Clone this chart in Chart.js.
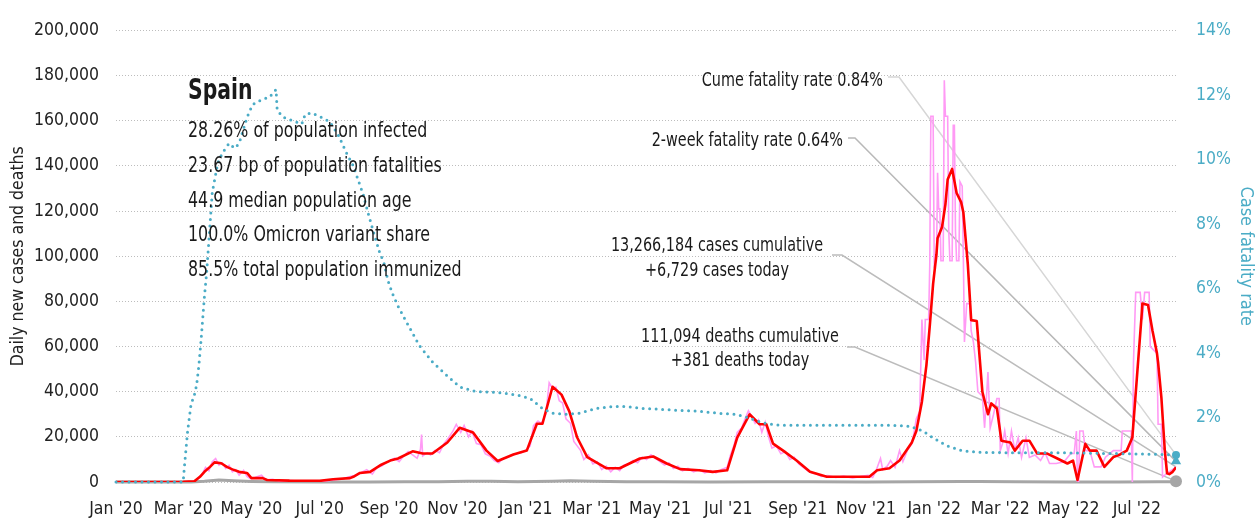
<!DOCTYPE html>
<html>
<head>
<meta charset="utf-8">
<title>Spain</title>
<script src="https://cdn.jsdelivr.net/npm/chart.js@4.4.1/dist/chart.umd.min.js"></script>
<style>
  html, body { margin: 0; padding: 0; background: #fff; }
  canvas { display: block; }
</style>
</head>
<body>
<canvas id="grafico" width="1259" height="520"></canvas>
<script>
// x axis: every other month
const tickDates = ['2020-01-01','2020-03-01','2020-05-01','2020-07-01','2020-09-01','2020-11-01',
  '2021-01-01','2021-03-01','2021-05-01','2021-07-01','2021-09-01','2021-11-01',
  '2022-01-01','2022-03-01','2022-05-01','2022-07-01'];
const tickLabels = ["Jan '20","Mar '20","May '20","Jul '20","Sep '20","Nov '20",
  "Jan '21","Mar '21","May '21","Jul '21","Sep '21","Nov '21",
  "Jan '22","Mar '22","May '22","Jul '22"];
const lastDate = '2022-08-05';

// 7-day average of new cases
const avgDates = [
  '2020-01-01','2020-03-01','2020-03-11','2020-03-16','2020-03-20','2020-03-25','2020-03-29','2020-04-04','2020-04-09','2020-04-14',
  '2020-04-20','2020-04-27','2020-05-01','2020-05-11','2020-05-15','2020-06-04','2020-07-01','2020-07-13','2020-07-28','2020-07-31',
  '2020-08-06','2020-08-15','2020-08-24','2020-09-02','2020-09-09','2020-09-22','2020-10-01','2020-10-10','2020-10-23','2020-11-03',
  '2020-11-15','2020-11-27','2020-12-07','2020-12-21','2021-01-02','2021-01-11','2021-01-16','2021-01-25','2021-02-02','2021-02-09',
  '2021-02-16','2021-02-25','2021-03-14','2021-03-26','2021-04-13','2021-04-25','2021-05-07','2021-05-19','2021-06-05','2021-06-17',
  '2021-06-30','2021-07-09','2021-07-20','2021-07-29','2021-08-04','2021-08-10','2021-08-19','2021-08-31','2021-09-12','2021-09-27',
  '2021-10-06','2021-11-04','2021-11-11','2021-11-22','2021-12-01','2021-12-12','2021-12-16','2021-12-21','2021-12-25','2021-12-28',
  '2021-12-31','2022-01-03','2022-01-04','2022-01-08','2022-01-11','2022-01-13','2022-01-17','2022-01-21','2022-01-25','2022-01-27',
  '2022-01-31','2022-02-03','2022-02-08','2022-02-13','2022-02-18','2022-02-21','2022-02-26','2022-03-02','2022-03-10','2022-03-14',
  '2022-03-21','2022-03-27','2022-04-03','2022-04-12','2022-04-21','2022-04-30','2022-05-05','2022-05-09','2022-05-16','2022-05-20',
  '2022-05-26','2022-06-02','2022-06-10','2022-06-16','2022-06-22','2022-06-27','2022-07-01','2022-07-05','2022-07-06','2022-07-11',
  '2022-07-15','2022-07-19','2022-07-20','2022-07-23','2022-07-26','2022-07-28','2022-07-30','2022-08-02','2022-08-05'];
const avgCases = [
  0, 100, 300, 2300, 4500, 6700, 8700, 8300, 6700, 5600,
  4500, 4000, 1700, 1700, 900, 600, 500, 1200, 1700, 2300,
  4000, 4500, 7400, 9500, 10400, 13600, 12600, 12700, 17500, 24000,
  21900, 13900, 9300, 12200, 13900, 25800, 25800, 42200, 38700, 31300,
  19700, 11000, 6100, 6100, 10400, 11300, 8200, 5700, 5200, 4500,
  5200, 19700, 30000, 25600, 25600, 17000, 13900, 9500, 4500, 2300,
  2300, 2300, 5200, 6100, 9500, 17500, 22600, 35600, 51700, 69000,
  87800, 100900, 108000, 113000, 123000, 134000, 138700, 128000, 124000, 119500,
  96500, 71700, 71300, 40000, 30000, 34800, 32600, 18300, 17500, 13900,
  18300, 18300, 12600, 12600, 10400, 8200, 9500, 900, 16900, 13900,
  13900, 6700, 11000, 12200, 13900, 19700, 45800, 71900, 79100, 78400,
  67000, 57000, 53000, 37000, 13900, 3900, 3500, 4500, 6500];

// reported new cases
const dailyDates = [
  '2020-01-01','2020-03-01','2020-03-10','2020-03-14','2020-03-18','2020-03-21','2020-03-24','2020-03-27','2020-03-30','2020-04-02',
  '2020-04-05','2020-04-08','2020-04-11','2020-04-14','2020-04-17','2020-04-20','2020-04-24','2020-04-27','2020-04-30','2020-05-04',
  '2020-05-10','2020-05-14','2020-05-20','2020-05-26','2020-06-05','2020-06-15','2020-06-25','2020-07-05','2020-07-15','2020-07-22',
  '2020-07-29','2020-08-03','2020-08-08','2020-08-12','2020-08-17','2020-08-21','2020-08-25','2020-08-29','2020-09-02','2020-09-06',
  '2020-09-10','2020-09-14','2020-09-18','2020-09-22','2020-09-26','2020-09-29','2020-09-30','2020-10-01','2020-10-05','2020-10-08',
  '2020-10-12','2020-10-16','2020-10-20','2020-10-24','2020-10-28','2020-10-31','2020-11-04','2020-11-07','2020-11-11','2020-11-14',
  '2020-11-18','2020-11-22','2020-11-26','2020-11-30','2020-12-04','2020-12-08','2020-12-12','2020-12-16','2020-12-20','2020-12-24',
  '2020-12-28','2021-01-01','2021-01-05','2021-01-08','2021-01-12','2021-01-15','2021-01-19','2021-01-22','2021-01-25','2021-01-28',
  '2021-01-31','2021-02-03','2021-02-06','2021-02-10','2021-02-13','2021-02-16','2021-02-19','2021-02-22','2021-02-26','2021-03-02',
  '2021-03-06','2021-03-10','2021-03-14','2021-03-18','2021-03-22','2021-03-26','2021-03-30','2021-04-03','2021-04-07','2021-04-11',
  '2021-04-15','2021-04-19','2021-04-23','2021-04-27','2021-05-01','2021-05-05','2021-05-09','2021-05-13','2021-05-17','2021-05-21',
  '2021-05-26','2021-05-31','2021-06-05','2021-06-10','2021-06-15','2021-06-20','2021-06-25','2021-06-30','2021-07-03','2021-07-06',
  '2021-07-09','2021-07-13','2021-07-16','2021-07-19','2021-07-22','2021-07-25','2021-07-28','2021-07-31','2021-08-03','2021-08-06',
  '2021-08-09','2021-08-13','2021-08-17','2021-08-21','2021-08-25','2021-08-29','2021-09-02','2021-09-06','2021-09-10','2021-09-14',
  '2021-09-18','2021-09-22','2021-09-28','2021-10-05','2021-10-12','2021-10-20','2021-10-28','2021-11-03','2021-11-07','2021-11-10',
  '2021-11-14','2021-11-16','2021-11-20','2021-11-23','2021-11-27','2021-12-01','2021-12-04','2021-12-08','2021-12-12','2021-12-14',
  '2021-12-16','2021-12-19','2021-12-21','2021-12-23','2021-12-24','2021-12-27','2021-12-28','2021-12-29','2021-12-31','2022-01-01',
  '2022-01-03','2022-01-04','2022-01-05','2022-01-06','2022-01-07','2022-01-09','2022-01-10','2022-01-11','2022-01-13','2022-01-14',
  '2022-01-15','2022-01-17','2022-01-18','2022-01-19','2022-01-20','2022-01-21','2022-01-23','2022-01-24','2022-01-26','2022-01-27',
  '2022-01-28','2022-01-30','2022-02-02','2022-02-03','2022-02-05','2022-02-07','2022-02-09','2022-02-13','2022-02-15','2022-02-18',
  '2022-02-20','2022-02-23','2022-02-26','2022-02-28','2022-03-01','2022-03-03','2022-03-05','2022-03-08','2022-03-11','2022-03-14',
  '2022-03-17','2022-03-20','2022-03-24','2022-03-27','2022-04-01','2022-04-06','2022-04-10','2022-04-14','2022-04-20','2022-04-27',
  '2022-05-03','2022-05-06','2022-05-08','2022-05-09','2022-05-10','2022-05-11','2022-05-14','2022-05-16','2022-05-20','2022-05-24',
  '2022-05-30','2022-06-03','2022-06-10','2022-06-17','2022-06-18','2022-06-26','2022-06-27','2022-06-28','2022-06-30','2022-07-04',
  '2022-07-06','2022-07-08','2022-07-12','2022-07-13','2022-07-19','2022-07-20','2022-07-23','2022-07-24','2022-07-28','2022-08-01',
  '2022-08-05'];
const dailyCases = [
  0, 0, 200, 1500, 3500, 6500, 5000, 9000, 10400, 7500,
  8500, 6000, 7400, 4500, 5500, 3000, 5200, 2500, 1500, 2000,
  3000, 1000, 1200, 400, 600, 300, 500, 400, 1000, 1500,
  2500, 3000, 4500, 5500, 3500, 6500, 7000, 8500, 9500, 10500,
  9000, 11500, 13500, 12000, 10500, 14500, 21000, 11500, 13000, 12000,
  14000, 13000, 17000, 19500, 22500, 25500, 22000, 25000, 20000, 22500,
  17000, 16500, 12500, 11500, 9500, 8500, 10500, 11000, 12000, 12500,
  13000, 14000, 16000, 25000, 27000, 26000, 30000, 44000, 41500, 42000,
  36000, 35000, 28000, 26000, 18000, 16000, 14000, 10000, 12000, 8000,
  9000, 5500, 7000, 4500, 6500, 5000, 7500, 8000, 9500, 8500,
  11000, 10000, 12000, 10500, 9000, 7500, 8500, 6000, 7000, 5000,
  6000, 4500, 5500, 4000, 5000, 4000, 5500, 6500, 12000, 16000,
  22000, 24000, 28000, 31500, 29000, 26000, 27500, 22000, 26500, 20000,
  15000, 16000, 12500, 13500, 10000, 11000, 8000, 6500, 5000, 4000,
  3500, 2500, 2800, 2000, 2600, 1800, 2500, 3000, 2000, 5000,
  10400, 5500, 7000, 9500, 6500, 13900, 9000, 14000, 17000, 22000,
  28000, 31300, 72000, 54000, 72000, 72000, 96000, 162000, 162000, 96000,
  98000, 137000, 121000, 121000, 98000, 98000, 178000, 162000, 162000, 111000,
  98000, 98000, 158000, 158000, 111000, 98000, 98000, 133000, 131000, 100000,
  62000, 79000, 79000, 67000, 62000, 53000, 40000, 38000, 24000, 48700,
  24000, 30000, 37000, 37000, 13900, 17000, 22600, 12600, 22600, 13900,
  19600, 10900, 19600, 10900, 12000, 9500, 13000, 8200, 8200, 9000,
  12600, 12600, 22600, 0, 0, 22600, 22600, 13900, 13900, 6700,
  6700, 11000, 13900, 13900, 22600, 22600, 0, 53000, 84000, 84000,
  72000, 84000, 84000, 60000, 57000, 25600, 25600, 2200, 3900, 5200,
  6729];

// 7-day average of deaths
const deathDates = ['2020-01-01','2020-03-08','2020-03-20','2020-04-02','2020-04-15','2020-05-01','2020-05-20','2020-07-01',
  '2020-08-15','2020-09-15','2020-10-15','2020-11-10','2020-12-01','2020-12-25','2021-01-25','2021-02-10','2021-03-01',
  '2021-04-01','2021-05-01','2021-06-15','2021-08-05','2021-09-15','2021-11-01','2021-12-15','2022-01-25','2022-02-10',
  '2022-03-15','2022-05-01','2022-06-15','2022-07-20','2022-08-05'];
const deathAvg = [0, 0, 300, 850, 550, 250, 60, 10,
  30, 120, 150, 350, 300, 150, 350, 500, 300,
  100, 90, 40, 120, 60, 30, 60, 200, 250,
  100, 50, 40, 110, 100];

// case fatality rate, percent
const rateDates = ['2020-01-01','2020-03-01','2020-03-02','2020-03-05','2020-03-08','2020-03-11','2020-03-13','2020-03-15','2020-03-17','2020-03-20',
  '2020-03-22','2020-03-23','2020-03-27','2020-04-01','2020-04-05','2020-04-11','2020-04-16','2020-04-20','2020-04-27','2020-05-02',
  '2020-05-11','2020-05-17','2020-05-23','2020-05-24','2020-05-29','2020-06-07','2020-06-15','2020-06-18','2020-06-24','2020-07-03',
  '2020-07-10','2020-07-17','2020-07-25','2020-07-31','2020-08-04','2020-08-09','2020-08-13','2020-08-18','2020-08-24','2020-08-27',
  '2020-08-31','2020-09-04','2020-09-09','2020-09-17','2020-09-28','2020-10-10','2020-10-22','2020-11-03','2020-11-18','2020-12-06',
  '2020-12-24','2021-01-05','2021-01-16','2021-01-25','2021-02-07','2021-02-18','2021-03-05','2021-03-20','2021-04-01','2021-04-16',
  '2021-05-04','2021-05-19','2021-06-06','2021-06-23','2021-07-08','2021-07-20','2021-08-01','2021-08-16','2021-09-30','2021-11-19',
  '2021-12-10','2021-12-22','2021-12-31','2022-01-12','2022-01-26','2022-02-10','2022-03-03','2022-04-17','2022-06-16','2022-07-28',
  '2022-08-05'];
const fatalityRate = [0, 0, 0.43, 1.58, 2.4, 2.7, 3.0, 3.6, 4.4, 5.75,
  6.5, 7.0, 8.98, 9.9, 10.2, 10.5, 10.35, 10.5, 11.3, 11.7,
  11.87, 11.93, 12.17, 11.53, 11.32, 11.2, 11.1, 11.4, 11.44, 11.3,
  11.17, 10.8, 10.2, 9.8, 9.4, 8.9, 8.37, 7.76, 7.06, 6.85,
  6.24, 5.84, 5.45, 4.93, 4.23, 3.71, 3.32, 2.95, 2.8, 2.78,
  2.7, 2.59, 2.28, 2.13, 2.1, 2.13, 2.28, 2.34, 2.34, 2.28,
  2.25, 2.22, 2.19, 2.13, 2.1, 1.98, 1.83, 1.76, 1.76, 1.76,
  1.73, 1.58, 1.37, 1.13, 0.97, 0.92, 0.91, 0.91, 0.88, 0.85,
  0.84];

const cumeRate = 0.84;
const twoWeekRate = 0.64;
const casesCumulative = 13266184;
const casesToday = 6729;
const deathsCumulative = 111094;
const deathsToday = 381;

const country = 'Spain';
const infoLines = ['28.26% of population infected', '23.67 bp of population fatalities', '44.9 median population age',
  '100.0% Omicron variant share', '85.5% total population immunized'];

const TEAL = '#4bacc6';
const FONT = "'DejaVu Sans Condensed', 'DejaVu Sans', sans-serif";

function dayIndex(s) {
  const p = s.split('-').map(Number);
  return (Date.UTC(p[0], p[1] - 1, p[2]) - Date.UTC(2020, 0, 1)) / 86400000;
}
function puntos(dates, values) {
  return dates.map((d, i) => ({ x: dayIndex(d), y: values[i] }));
}
function fmt(n) {
  return n.toLocaleString('en-US');
}
// text squeezed sideways so it reads like a narrow face
function texto(ctx, t, x, y, align, sx) {
  ctx.save();
  ctx.translate(x, y);
  ctx.scale(sx, 1);
  ctx.textAlign = align;
  ctx.fillText(t, 0, 0);
  ctx.restore();
}

const endDay = dayIndex(lastDate);

// labels and leader lines
const notas = {
  id: 'notas',
  beforeDatasetsDraw(chart) {
    const ctx = chart.ctx;
    const endX = chart.scales.x.getPixelForValue(endDay);
    const y = chart.scales.y, y1 = chart.scales.y1;
    const leaders = [
      { from: [888, 77], elbow: 899, to: y1.getPixelForValue(cumeRate), color: '#d6d6d6' },
      { from: [848, 138], elbow: 855, to: y1.getPixelForValue(twoWeekRate), color: '#b8b8b8' },
      { from: [832, 255], elbow: 842, to: y.getPixelForValue(casesToday), color: '#bcbcbc' },
      { from: [847, 347], elbow: 855, to: y.getPixelForValue(deathsToday), color: '#bcbcbc' }
    ];
    ctx.save();
    ctx.lineWidth = 1.5;
    for (const l of leaders) {
      ctx.strokeStyle = l.color;
      ctx.beginPath();
      ctx.moveTo(l.from[0], l.from[1]);
      ctx.lineTo(l.elbow, l.from[1]);
      ctx.lineTo(endX, l.to);
      ctx.stroke();
    }
    ctx.restore();
  },
  afterDatasetsDraw(chart) {
    const ctx = chart.ctx;
    ctx.save();
    ctx.fillStyle = '#1a1a1a';
    ctx.textBaseline = 'alphabetic';

    ctx.font = 'bold 29px ' + FONT;
    texto(ctx, country, 188, 99, 'left', 0.78);
    ctx.font = '22px ' + FONT;
    infoLines.forEach((t, i) => texto(ctx, t, 188, 137 + i * 34.8, 'left', 0.8));

    ctx.font = '20px ' + FONT;
    texto(ctx, 'Cume fatality rate ' + cumeRate.toFixed(2) + '%', 883, 86, 'right', 0.8);
    texto(ctx, '2-week fatality rate ' + twoWeekRate.toFixed(2) + '%', 843, 146, 'right', 0.8);
    texto(ctx, fmt(casesCumulative) + ' cases cumulative', 717, 251, 'center', 0.8);
    texto(ctx, '+' + fmt(casesToday) + ' cases today', 717, 276, 'center', 0.8);
    texto(ctx, fmt(deathsCumulative) + ' deaths cumulative', 740, 342, 'center', 0.8);
    texto(ctx, '+' + fmt(deathsToday) + ' deaths today', 740, 366, 'center', 0.8);
    ctx.restore();
  }
};

Chart.defaults.font.family = FONT;
Chart.defaults.font.size = 17.5;
Chart.defaults.color = '#222';

new Chart(document.getElementById('grafico'), {
  type: 'line',
  data: {
    datasets: [
      { data: [{ x: endDay, y: cumeRate }], yAxisID: 'y1', showLine: false, pointStyle: 'circle',
        pointRadius: 4, pointBackgroundColor: TEAL, pointBorderWidth: 0, clip: false },
      { data: [{ x: endDay, y: twoWeekRate }], yAxisID: 'y1', showLine: false, pointStyle: 'triangle',
        pointRadius: 6, pointBackgroundColor: TEAL, pointBorderWidth: 0, clip: false },
      { data: [{ x: endDay, y: deathsToday }], yAxisID: 'y', showLine: false,
        pointRadius: 6, pointBackgroundColor: '#a6a6a6', pointBorderWidth: 0, clip: false },
      { label: 'Case fatality rate', data: puntos(rateDates, fatalityRate), yAxisID: 'y1',
        borderColor: TEAL, borderWidth: 3, borderDash: [0, 6.5], borderCapStyle: 'round',
        pointRadius: 0, tension: 0, clip: false },
      { label: '7-day average', data: puntos(avgDates, avgCases), yAxisID: 'y',
        borderColor: '#ff0000', borderWidth: 2.6, pointRadius: 0, tension: 0, borderJoinStyle: 'round' },
      { label: 'New cases', data: puntos(dailyDates, dailyCases), yAxisID: 'y',
        borderColor: '#ff9af5', borderWidth: 1.6, pointRadius: 0, tension: 0 },
      { label: 'Deaths', data: puntos(deathDates, deathAvg), yAxisID: 'y',
        borderColor: '#a6a6a6', borderWidth: 3, pointRadius: 0, tension: 0, clip: false }
    ]
  },
  options: {
    responsive: false,
    devicePixelRatio: 1,
    animation: false,
    layout: { padding: { top: 22, left: 0, right: 0, bottom: 0 } },
    plugins: { legend: { display: false }, tooltip: { enabled: false } },
    scales: {
      x: {
        type: 'linear',
        min: 0,
        max: endDay,
        afterBuildTicks: (scale) => { scale.ticks = tickDates.map(d => ({ value: dayIndex(d) })); },
        afterFit: (scale) => { scale.height = 38; },
        grid: { display: false },
        border: { display: false },
        ticks: { autoSkip: false, maxRotation: 0, padding: 9, color: '#222',
          callback: (v, i) => tickLabels[i] }
      },
      y: {
        position: 'left',
        min: 0,
        max: 200000,
        afterFit: (scale) => { scale.width = 116; },
        ticks: { stepSize: 20000, padding: 17, color: '#222', callback: (v) => fmt(v) },
        grid: { color: '#bdbdbd', lineWidth: 1, drawTicks: false },
        border: { display: false, dash: [1, 2] },
        title: { display: true, text: 'Daily new cases and deaths', color: '#222',
          font: { size: 17.5 }, padding: { top: 8, bottom: 0 } }
      },
      y1: {
        position: 'right',
        min: 0,
        max: 14,
        afterFit: (scale) => { scale.width = 83; },
        ticks: { stepSize: 2, padding: 20, color: TEAL, callback: (v) => v + '%' },
        grid: { drawOnChartArea: false, drawTicks: false },
        border: { display: false },
        title: { display: true, text: 'Case fatality rate', color: TEAL,
          font: { size: 18 }, padding: { top: 3, bottom: 0 } }
      }
    }
  },
  plugins: [notas]
});
</script>
</body>
</html>
